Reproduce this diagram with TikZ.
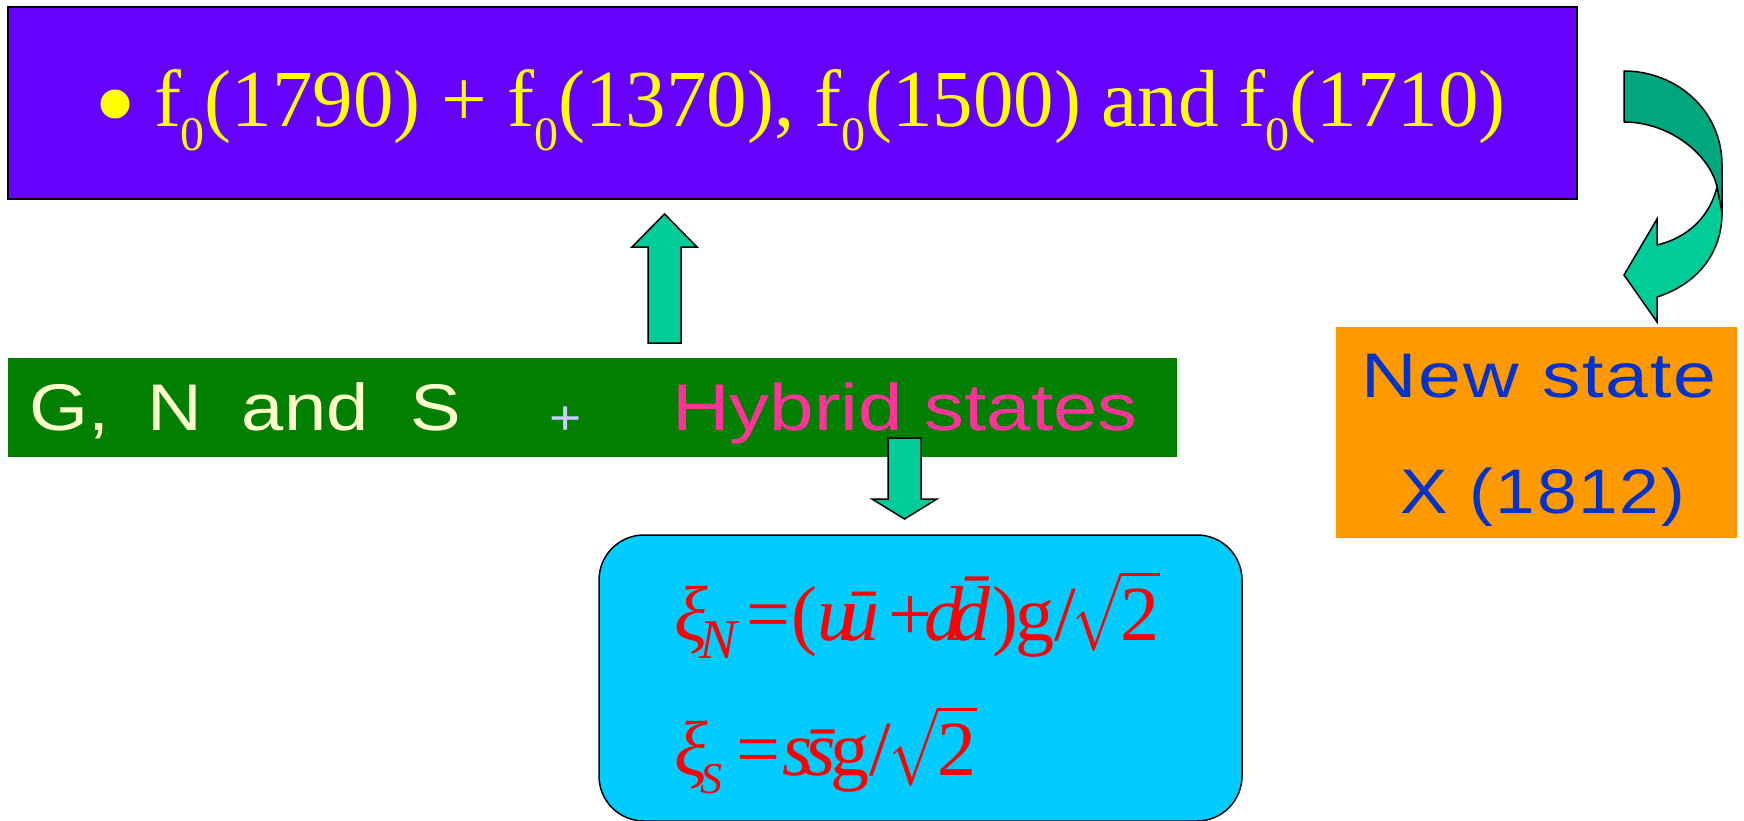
\documentclass[tikz,border=0pt]{standalone}
\usepackage{exscale}
\DeclareFontShape{OMS}{cmsy}{m}{n}{<->cmsy10}{}
\DeclareFontShape{OML}{cmm}{m}{it}{<->cmmi10}{}
\usepackage{fontspec}
\setmainfont{Liberation Serif}
\newfontfamily\arialgns[FakeStretch=1.15]{Liberation Sans}
\newfontfamily\arialwide[FakeStretch=1.21]{Liberation Sans}
\newfontfamily\arialnew[FakeStretch=1.22,LetterSpace=3]{Liberation Sans}
\newfontfamily\arialnewb[FakeStretch=1.13,LetterSpace=3]{Liberation Sans}
\definecolor{purplebg}{HTML}{6600FF}
\definecolor{greenbg}{HTML}{007F00}
\definecolor{orangebg}{HTML}{FF9900}
\definecolor{cyanbg}{HTML}{00CCFF}
\definecolor{arrowlight}{HTML}{00CC99}
\definecolor{arrowdark}{HTML}{00A67E}
\definecolor{textyellow}{HTML}{FFFF00}
\definecolor{paleyellow}{HTML}{FFFFCC}
\definecolor{lavender}{HTML}{CCCCFF}
\definecolor{hotpink}{HTML}{FF3399}
\definecolor{stateblue}{HTML}{0033CC}
\definecolor{eqred}{HTML}{FF0000}
\newcommand{\fsub}[1]{\raisebox{-24pt}{\fontsize{48}{48}\selectfont #1}}
\newcommand{\at}[2]{\rlap{\hspace*{#1pt}#2}}
\newcommand{\rootoftwo}{\scalebox{0.75}[1]{$\sqrt{\mbox{\scalebox{1.333}[1]{2}}}$}}
\tikzset{
  panel/.style={rectangle, inner sep=0pt, outer sep=0pt},
  blockarrow/.style={fill=arrowlight, draw=black, line width=1.5pt, line join=miter},
  label text/.style={inner sep=0pt, outer sep=0pt},
}
\begin{document}
\begin{tikzpicture}[x=1pt, y=-1pt]
\useasboundingbox (0,0) rectangle (1744,821);
% panels
\node[panel, fill=purplebg, draw=black, line width=1.5pt, minimum width=1569pt, minimum height=192pt] (fbox) at (792.5,103) {};
\node[panel, fill=greenbg, minimum width=1169pt, minimum height=99pt] (gbox) at (592.5,407.5) {};
\node[panel, fill=orangebg, minimum width=401pt, minimum height=211pt] (nbox) at (1536.5,432.5) {};
\node[panel, fill=cyanbg, draw=black, line width=1.5pt, rounded corners=45pt, minimum width=643pt, minimum height=286pt] (xbox) at (920.5,678) {};
% top text
\node[circle, fill=textyellow, minimum size=29pt, inner sep=0pt] (bullet) at (115,104) {};
\node[label text, anchor=base west, text=textyellow, font=\fontsize{81}{81}\selectfont] (ftext) at (154,127)
  {f\fsub{0}(1790) + f\fsub{0}(1370), f\fsub{0}(1500) and f\fsub{0}(1710)};
% green text
\node[label text, anchor=base west, text=paleyellow, font=\arialgns\fontsize{66}{66}\selectfont] (gns) at (29.5,430)
  {G,\hspace{38pt}N\hspace{39.5pt}and\hspace{42pt}S};
\node[label text, anchor=base west, text=lavender, font=\arialgns\fontsize{48}{48}\selectfont] (plus) at (549,434) {+};
\node[label text, anchor=base west, text=hotpink, font=\arialwide\fontsize{66}{66}\selectfont] (hyb) at (672,430) {Hybrid states};
% new state
\node[label text, anchor=base, text=stateblue, font=\arialnew\fontsize{63}{63}\selectfont] (ns1) at (1539,397) {New state};
\node[label text, anchor=base, text=stateblue, font=\arialnewb\fontsize{63}{63}\selectfont] (ns2) at (1543,513) {X (1812)};
% equations
\node[label text, anchor=base west, text=eqred, font=\fontsize{78}{78}\selectfont] (eqN) at (674,640)
  {\at{0}{\itshape ξ}\at{25}{\raisebox{-18pt}{\fontsize{56}{56}\selectfont\itshape N}}\at{72}{=}\at{118}{(}\at{143}{\itshape u}\at{166}{\itshape\=u}\at{214}{+}\at{250}{\itshape d}\at{277}{\itshape\=d}\at{318}{)}\at{341}{g}\at{381}{/}\at{398}{\rootoftwo}\hspace*{482pt}};
\node[label text, anchor=base west, text=eqred, font=\fontsize{78}{78}\selectfont] (eqS) at (674,775)
  {\at{0}{\itshape ξ}\at{26}{\raisebox{-18pt}{\fontsize{44}{44}\selectfont\itshape S}}\at{62}{=}\at{108}{\itshape s}\at{131}{\itshape\=s}\at{156}{g}\at{196}{/}\at{215}{\rootoftwo}\hspace*{298pt}};
% block arrows
\path[blockarrow] (648,343) -- (648,247) -- (632,247) -- (664.5,214) -- (697,247) -- (681,247) -- (681,343) -- cycle;
\path[blockarrow] (888,438) -- (888,499) -- (872,499) -- (904.5,519) -- (937,499) -- (921,499) -- (921,438) -- cycle;
% curved arrow
\path[fill=arrowdark, draw=black, line width=1.5pt, line join=round]
  (1624,71) .. controls (1676,71) and (1722,110) .. (1722,165) -- (1722,213) -- (1717,187)
  .. controls (1710,155) and (1670,122) .. (1624,122) -- cycle;
\path[fill=arrowlight, draw=black, line width=1.5pt, line join=miter]
  (1717,187) .. controls (1710,215) and (1690,237) .. (1657,245) -- (1657,219) -- (1624,275)
  -- (1657,322) -- (1657,297) .. controls (1695,285) and (1722,255) .. (1722,213) -- cycle;
\end{tikzpicture}
\end{document}
